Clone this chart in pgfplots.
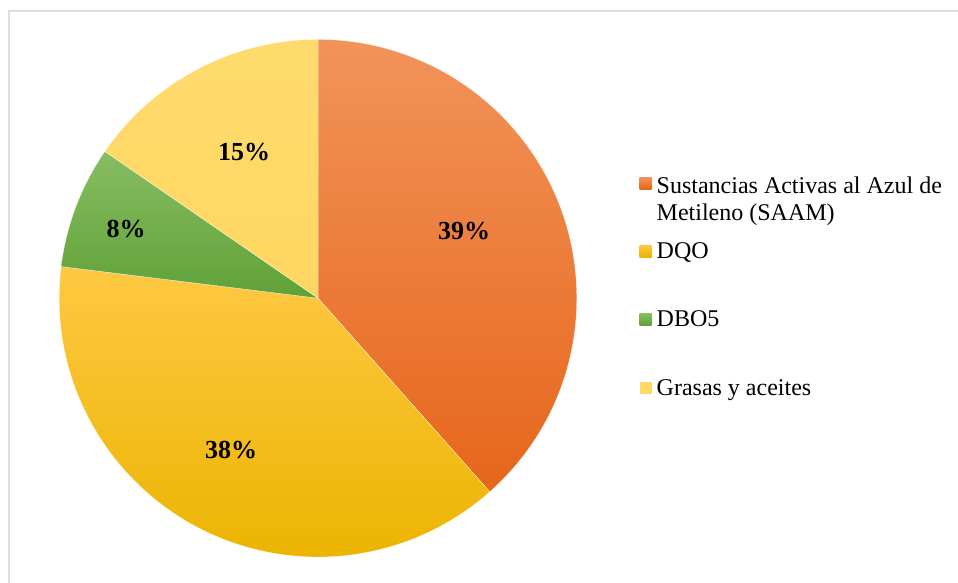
\documentclass[border=0pt]{standalone}
\usepackage{pgfplots}
\usepackage{pgfplotstable}
\pgfplotsset{compat=1.18}
\usepackage{fontspec}
\setmainfont{Liberation Serif}

\definecolor{oT}{HTML}{F2935A}
\definecolor{oM}{HTML}{F7822F}
\definecolor{oB}{HTML}{E6661A}
\definecolor{yT}{HTML}{FFC843}
\definecolor{yM}{HTML}{FFC102}
\definecolor{yB}{HTML}{EBB400}
\definecolor{gT}{HTML}{88BD62}
\definecolor{gM}{HTML}{6EAC44}
\definecolor{gB}{HTML}{60A137}
\definecolor{lT}{HTML}{FFDB6E}
\definecolor{lM}{HTML}{FFD966}
\definecolor{lB}{HTML}{FFD660}
\definecolor{frame}{HTML}{DADFE6}

\pgfplotstableread{
label value pct
SAAM 38.45 39
DQO 38.50 38
DBO5 7.65 8
Grasas 15.40 15
}\piedata

\begin{document}
\begin{tikzpicture}
\pgfplotstablegetelem{0}{value}\of\piedata \let\vA\pgfplotsretval
\pgfplotstablegetelem{1}{value}\of\piedata \let\vB\pgfplotsretval
\pgfplotstablegetelem{2}{value}\of\piedata \let\vC\pgfplotsretval
\pgfplotstablegetelem{3}{value}\of\piedata \let\vD\pgfplotsretval
\pgfmathsetmacro\aA{90}
\pgfmathsetmacro\aB{\aA-3.6*\vA}
\pgfmathsetmacro\aC{\aB-3.6*\vB}
\pgfmathsetmacro\aD{\aC-3.6*\vC}
\pgfmathsetmacro\aE{\aD-3.6*\vD}
\def\R{258.8pt}
\path[use as bounding box] (0,0) rectangle (958pt,582pt);
\begin{axis}[
  at={(0,0)}, anchor=south west,
  scale only axis, width=958pt, height=582pt,
  xmin=0, xmax=958, ymin=0, ymax=582,
  hide axis, clip=false,
]
\draw[frame, line width=1.6pt] (axis cs:8.8,-10) -- (axis cs:8.8,571.2) -- (axis cs:970,571.2);
% slices
\shadedraw[top color=oT, middle color=oM, bottom color=oB, draw=white, line width=0.2pt]
  (axis cs:318,283.8) -- ([shift={(\aB:\R)}]axis cs:318,283.8) arc[start angle=\aB, end angle=\aA, radius=\R] -- cycle;
\shadedraw[top color=yT, middle color=yM, bottom color=yB, draw=white, line width=0.2pt]
  (axis cs:318,283.8) -- ([shift={(\aC:\R)}]axis cs:318,283.8) arc[start angle=\aC, end angle=\aB, radius=\R] -- cycle;
\shadedraw[top color=gT, middle color=gM, bottom color=gB, draw=white, line width=0.2pt]
  (axis cs:318,283.8) -- ([shift={(\aD:\R)}]axis cs:318,283.8) arc[start angle=\aD, end angle=\aC, radius=\R] -- cycle;
\shadedraw[top color=lT, middle color=lM, bottom color=lB, draw=white, line width=0.2pt]
  (axis cs:318,283.8) -- ([shift={(\aE:\R)}]axis cs:318,283.8) arc[start angle=\aE, end angle=\aD, radius=\R] -- cycle;
% data labels
\begin{scope}[every node/.style={font=\bfseries\fontsize{26}{30}\selectfont, inner sep=0pt}]
\node at (axis cs:464,351) {39\%};
\node at (axis cs:231,131.5) {38\%};
\node at (axis cs:126,353) {8\%};
\node at (axis cs:244,429.5) {15\%};
\end{scope}
% legend
\begin{scope}[every node/.style={font=\fontsize{24}{27.7}\selectfont, inner sep=0pt, anchor=base west}]
\shade[top color=oT, bottom color=oB] (axis cs:639.5,392.7) rectangle (axis cs:651.5,404.7);
\node at (axis cs:656.5,388.7) {Sustancias Activas al Azul de};
\node at (axis cs:656.5,361) {Metileno (SAAM)};
\shade[top color=yT, bottom color=yB] (axis cs:639.5,325) rectangle (axis cs:651.5,337);
\node at (axis cs:656.5,323.7) {DQO};
\shade[top color=gT, bottom color=gB] (axis cs:639.5,256.5) rectangle (axis cs:651.5,268.5);
\node at (axis cs:656.5,255.3) {DBO5};
\fill[lM] (axis cs:639.5,188) rectangle (axis cs:651.5,200);
\node at (axis cs:656.5,187) {Grasas y aceites};
\end{scope}
\end{axis}
\end{tikzpicture}
\end{document}
